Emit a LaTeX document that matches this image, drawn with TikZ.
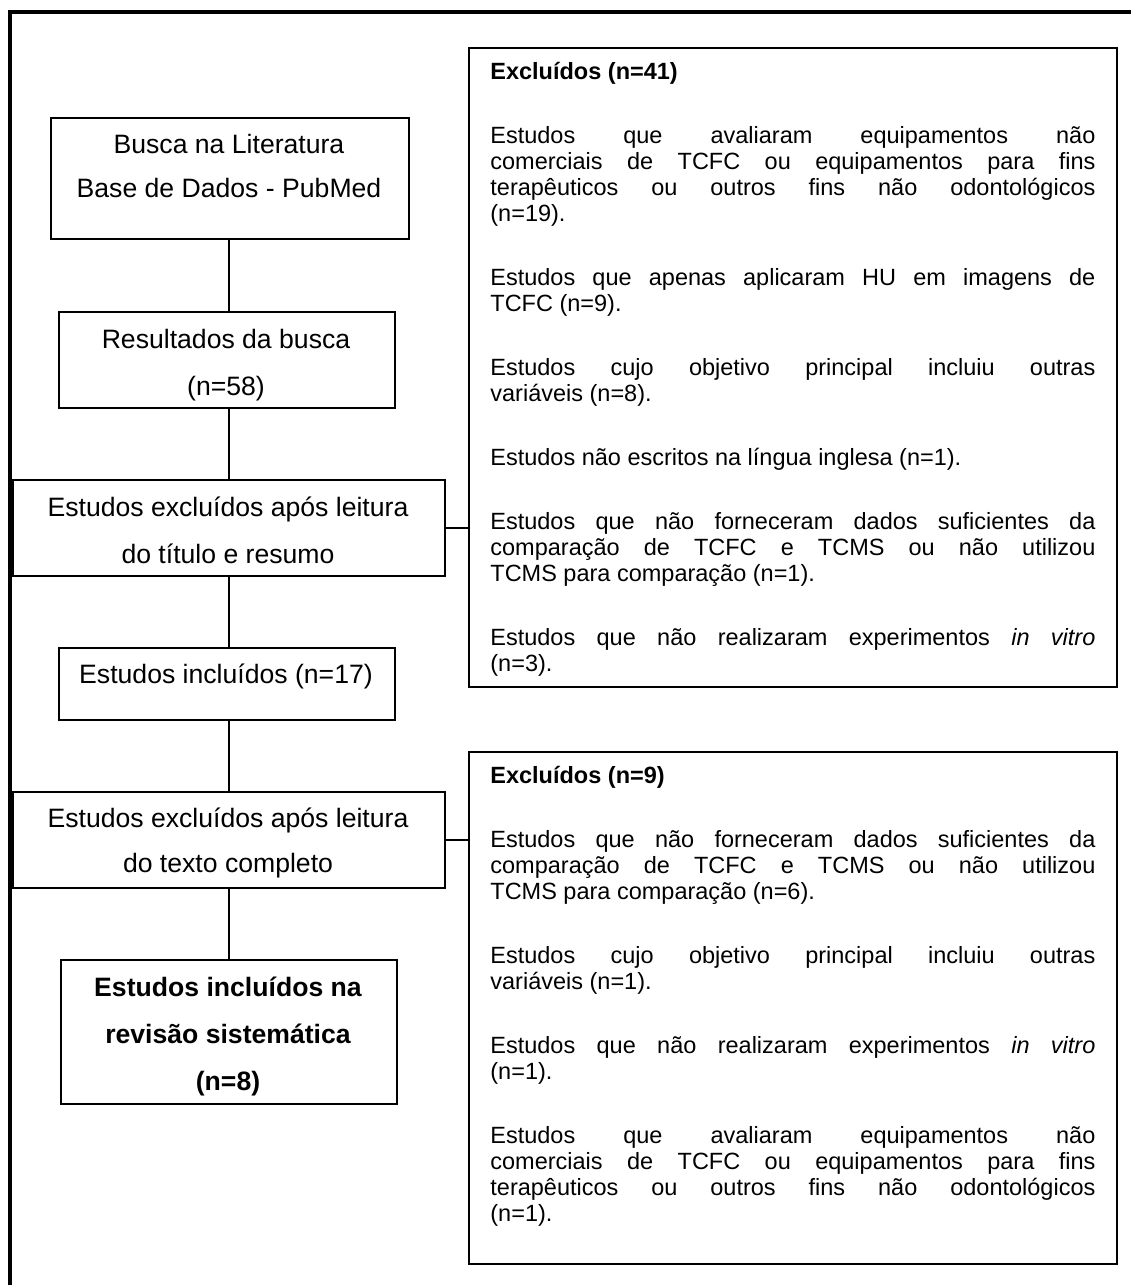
\documentclass[tikz,border=0pt]{standalone}
\usepackage{fontspec}
\setmainfont{Liberation Sans}
\tikzset{
  box/.style={draw, line width=0.9pt, inner sep=0pt, anchor=north west},
  lbl/.style={font=\fontsize{13.3}{23.5}\selectfont, align=center, anchor=base, inner sep=0pt},
  para/.style={text width=302.5pt, align=justify, anchor=base west, inner sep=0pt,
               font=\fontsize{11.75}{13}\selectfont},
  link/.style={line width=0.9pt},
  frame/.style={line width=2pt}
}
\newcommand{\pgap}{\par\vspace{19pt}}
\begin{document}
\begin{tikzpicture}[x=0.5pt, y=-0.5pt]
\useasboundingbox (0,0) rectangle (1131,1285);
% outer frame (only top and left edges visible)
\draw[frame] (9.5,1285) -- (9.5,11.5) -- (1131,11.5);

% left column boxes
\node[box, minimum width=179pt, minimum height=60.5pt] (b1) at (50,117) {};
\node[box, minimum width=168pt, minimum height=48pt] (b2) at (58,311) {};
\node[box, minimum width=216pt, minimum height=48pt] (b3) at (12,479) {};
\node[box, minimum width=168pt, minimum height=36pt] (b4) at (58,647) {};
\node[box, minimum width=216pt, minimum height=48pt] (b5) at (12,791) {};
\node[box, minimum width=168pt, minimum height=72pt] (b6) at (60,959) {};

% right boxes
\node[box, minimum width=324pt, minimum height=319.5pt] (bA) at (468,47) {};
\node[box, minimum width=324pt, minimum height=256pt] (bB) at (468,751) {};

% left texts (anchor = baseline of last line)
\node[lbl, font=\fontsize{13.3}{22}\selectfont] (t1) at (229,197) {Busca na Literatura\\Base de Dados - PubMed};
\node[lbl] (t2) at (226,395) {Resultados da busca\\(n=58)};
\node[lbl] (t3) at (228,563) {Estudos excluídos após leitura\\do título e resumo};
\node[lbl] (t4) at (226,683) {Estudos incluídos (n=17)};
\node[lbl, font=\fontsize{13.3}{22.5}\selectfont] (t5) at (228,872) {Estudos excluídos após leitura\\do texto completo};
\node[lbl, font=\bfseries\fontsize{13.3}{23.5}\selectfont] (t6) at (228,1090) {Estudos incluídos na\\revisão sistemática\\(n=8)};

% right texts (anchor = baseline of first line)
\node[para] (tA) at (490,79.5) {\textbf{Excluídos (n=41)}\pgap
Estudos que avaliaram equipamentos não\linebreak comerciais de TCFC ou equipamentos para fins\linebreak terapêuticos ou outros fins não odontológicos\linebreak (n=19).\pgap
Estudos que apenas aplicaram HU em imagens de\linebreak TCFC (n=9).\pgap
Estudos cujo objetivo principal incluiu outras\linebreak variáveis (n=8).\pgap
Estudos não escritos na língua inglesa (n=1).\pgap
Estudos que não forneceram dados suficientes da\linebreak comparação de TCFC e TCMS ou não utilizou\linebreak TCMS para comparação (n=1).\pgap
Estudos que não realizaram experimentos \textit{in vitro}\linebreak (n=3).};

\node[para] (tB) at (490,783.5) {\textbf{Excluídos (n=9)}\pgap
Estudos que não forneceram dados suficientes da\linebreak comparação de TCFC e TCMS ou não utilizou\linebreak TCMS para comparação (n=6).\pgap
Estudos cujo objetivo principal incluiu outras\linebreak variáveis (n=1).\pgap
Estudos que não realizaram experimentos \textit{in vitro}\linebreak (n=1).\pgap
Estudos que avaliaram equipamentos não\linebreak comerciais de TCFC ou equipamentos para fins\linebreak terapêuticos ou outros fins não odontológicos\linebreak (n=1).};

% connectors
\draw[link] (b1.south -| b3.north) -- (b2.north -| b3.north);
\draw[link] (b2.south -| b3.north) -- (b3.north);
\draw[link] (b3.south) -- (b4.north -| b3.south);
\draw[link] (b4.south -| b5.north) -- (b5.north);
\draw[link] (b5.south) -- (b6.north -| b5.south);
\draw[link] (b3.east) -- (b3.east -| bA.west);
\draw[link] (b5.east) -- (b5.east -| bB.west);
\end{tikzpicture}
\end{document}
